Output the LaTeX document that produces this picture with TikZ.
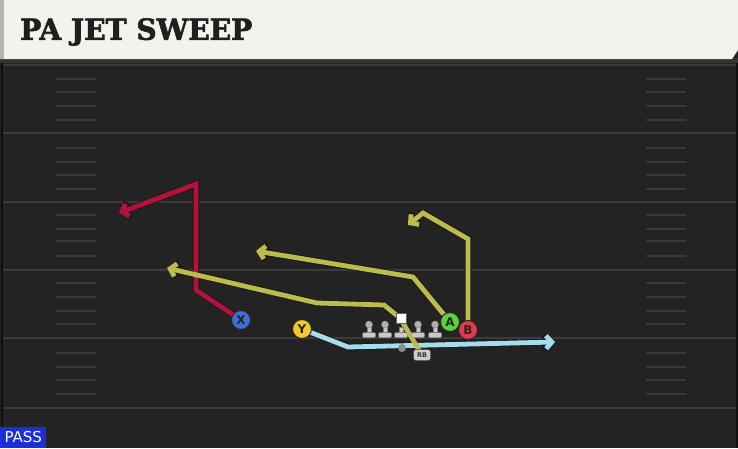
\documentclass[tikz,border=0pt]{standalone}
\usepackage{fontspec}
\setmainfont{DejaVu Sans}
\newfontfamily\titlefont{DejaVu Serif}[FakeStretch=0.97, BoldFeatures={FakeBold=2}]
\usetikzlibrary{arrows.meta,calc}
\definecolor{field}{HTML}{232323}
\definecolor{yardline}{HTML}{3B3B3B}
\definecolor{hashc}{HTML}{393939}
\definecolor{header}{HTML}{F4F2EC}
\definecolor{headerside}{HTML}{B4B4B0}
\definecolor{routered}{HTML}{B3133A}
\definecolor{routeolive}{HTML}{BDBB4C}
\definecolor{routeblue}{HTML}{A6DDEC}
\definecolor{xblue}{HTML}{4070D4}
\definecolor{yyellow}{HTML}{F3C92A}
\definecolor{agreen}{HTML}{5CD23E}
\definecolor{bred}{HTML}{E2394B}
\definecolor{linemanc}{HTML}{C8C8C8}
\definecolor{passblue}{HTML}{1A2FD9}
\tikzset{
  yard/.style={draw=yardline, line width=1.6pt},
  hashmark/.style={draw=hashc, line width=1.4pt},
  player/.style={circle, draw=black!85, line width=1pt, minimum size=19pt, inner sep=0pt,
    font=\bfseries\fontsize{12}{12}\selectfont, text=black!85},
  routeout/.style={draw=black!90, line width=6.6pt, line join=miter,
    -{Straight Barb[length=6.5pt,width=15pt]}},
  routein/.style={line width=4.8pt, line join=miter,
    -{Straight Barb[length=5.8pt,width=13pt]}},
  qbbox/.style={fill=white, draw=black!60, line width=0.4pt, minimum size=9.5pt, inner sep=0pt},
  rbtag/.style={fill=linemanc!90, draw=black!70, line width=0.5pt, rounded corners=2.5pt,
    minimum width=17pt, minimum height=11pt, inner sep=0pt,
    font=\bfseries\fontsize{6.5}{6.5}\selectfont, text=black!80},
  lmpart/.style={fill=linemanc, draw=black!50, line width=0.3pt},
}
\begin{document}
\begin{tikzpicture}[x=1pt,y=-1pt]
\useasboundingbox (0,0) rectangle (738,448);
\fill[field] (0,0) rectangle (738,448);
% side lines
\draw[draw=black!55!field, line width=2pt] (1.5,60) -- (1.5,448);
\draw[draw=black!55!field, line width=2pt] (736.5,60) -- (736.5,448);
% yard lines
\foreach \yy in {65,133,202,270,338,408}
  \draw[yard] (3,\yy) -- (736,\yy);
% hash marks
\foreach \yy in {79,92,106,120,148,162,175,189,215,229,241,256,283,297,311,324,353,367,380,394}{
  \draw[hashmark] (56,\yy) -- (96,\yy);
  \draw[hashmark] (646,\yy) -- (686,\yy);
}
% header
\fill[black!80] (0,58) rectangle (738,63);
\fill[header] (0,0) -- (738,0) -- (738,50) -- (732,59) -- (0,59) -- cycle;
\fill[headerside] (0,0) rectangle (4,59);
\node[anchor=west, inner sep=0pt, font=\titlefont\bfseries\fontsize{29}{29}\selectfont, text=black!88]
  (title) at (20,32) {PA JET SWEEP};
% players coordinates
\coordinate (Xp) at (241,320);
\coordinate (Yp) at (302,329);
\coordinate (Ap) at (450,322);
\coordinate (Bp) at (468,330);
\coordinate (RBtag) at (422,355);
% route waypoints
\coordinate (r1) at (196,290);
\coordinate (r2) at (196,184);
\coordinate (r3) at (119,213);
\coordinate (a1) at (413,277);
\coordinate (a2) at (256,251);
\coordinate (b1) at (468,239);
\coordinate (b2) at (423,213);
\coordinate (b3) at (408,225);
\coordinate (o0) at (419,350);
\coordinate (o1) at (400,318);
\coordinate (o2) at (384,305);
\coordinate (o3) at (317,303);
\coordinate (o4) at (167,268);
\coordinate (y1) at (348,347);
\coordinate (y2) at (555,342);
% routes: outlines
\draw[routeout] (Yp) -- (y1) -- (y2);
\draw[routeout] (Xp) -- (r1) -- (r2) -- (r3);
\draw[routeout] (o0) -- (o1) -- (o2) -- (o3) -- (o4);
\draw[routeout] (Ap) -- (a1) -- (a2);
\draw[routeout] (Bp) -- (b1) -- (b2) -- (b3);
% routes: colour
\draw[routein, draw=routeblue] (Yp) -- (y1) -- (y2);
\draw[routein, draw=routered] (Xp) -- (r1) -- (r2) -- (r3);
\draw[routein, draw=routeolive] (o0) -- (o1) -- (o2) -- (o3) -- (o4);
\draw[routein, draw=routeolive] (Ap) -- (a1) -- (a2);
\draw[routein, draw=routeolive] (Bp) -- (b1) -- (b2) -- (b3);
% offensive line
\foreach \xx/\nm in {369/LT,385/LG,418/RG,435/RT}{
  \coordinate (\nm) at (\xx,337.5);
  \fill[lmpart, rounded corners=1.2pt] ($(\nm)+(-6.5,0)$) rectangle ($(\nm)+(6.5,-5)$);
  \fill[lmpart] ($(\nm)+(-2,-5)$) rectangle ($(\nm)+(2,-11)$);
  \fill[lmpart, fill=linemanc!88!black] ($(\nm)+(0,-13)$) circle (3.6pt);
}
\coordinate (C) at (401,337.5);
\fill[lmpart, rounded corners=1.2pt] ($(C)+(-6.5,0)$) rectangle ($(C)+(6.5,-5)$);
\fill[lmpart] ($(C)+(-2,-5)$) rectangle ($(C)+(2,-10)$);
\node[qbbox] (QB) at (401,318) {};
\node[circle, fill=black!45, minimum size=8pt, inner sep=0pt] (RB) at (402,348) {};
\node[rbtag] (RBlabel) at (RBtag) {RB};
% skill players
\node[player, fill=xblue] (X) at (Xp) {X};
\node[player, fill=yyellow] (Y) at (Yp) {Y};
\node[player, fill=agreen] (A) at (Ap) {A};
\node[player, fill=bred] (B) at (Bp) {B};
% PASS label
\node[anchor=south west, fill=passblue, text=white, minimum width=46pt, minimum height=21pt,
  inner sep=0pt, font=\fontsize{15}{15}\selectfont] (pass) at (0,448) {PASS};
\end{tikzpicture}
\end{document}
